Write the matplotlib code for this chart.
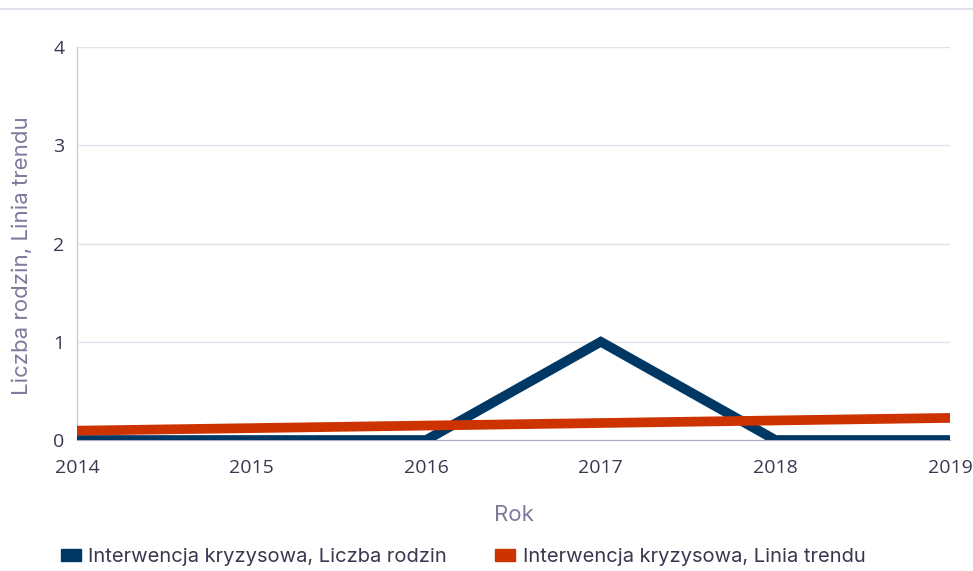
import matplotlib
matplotlib.use("Agg")
from matplotlib import pyplot as plt
from matplotlib.lines import Line2D
from matplotlib.patches import Patch

# data
years = [2014, 2015, 2016, 2017, 2018, 2019]
rodziny = [0, 0, 0, 1, 0, 0]
trend = [0.095, 0.121, 0.147, 0.173, 0.199, 0.225]
yticks = [0, 1, 2, 3, 4]

blue = "#003865"
orange = "#cc3300"
grid_c = "#e1e1ee"
lab_c = "#7d7b9c"

plt.rcParams['font.family'] = ['Open Sans', 'DejaVu Sans']

fig = plt.figure(figsize=(9.73, 5.71), dpi=100)
ax = fig.add_axes([0.0791, 0.2294, 0.8973, 0.6883])

ax.plot(years, rodziny, color=blue, lw=7, solid_joinstyle="miter", zorder=3)
ax.plot(years, trend, color=orange, lw=7, zorder=4)

ax.set_xlim(2014, 2019)
ax.set_ylim(0, 4)
ax.set_xticks(years)
ax.set_yticks(yticks)
ax.grid(axis="y", color=grid_c, lw=1)
ax.set_axisbelow(True)
for s in ["top", "right"]:
    ax.spines[s].set_visible(False)
ax.spines["left"].set_color("#c3c3d8")
ax.spines["bottom"].set_color("#a9a9c6")
ax.tick_params(length=0, labelsize=14, colors="#383850", pad=9)
ax.tick_params(axis="x", pad=14)

ax.set_xlabel("Rok", fontsize=16, color=lab_c, labelpad=20, family=["Inter", "DejaVu Sans"])
ax.set_ylabel("Liczba rodzin, Linia trendu", fontsize=16, color=lab_c,
              family=["Inter", "DejaVu Sans"], va="center")
ax.yaxis.set_label_coords(-0.063, 0.468)

# top separator line
fig.add_artist(Line2D([0, 1], [1 - 9/571, 1 - 9/571], color="#dcdcea", lw=1.2))

handles = [Patch(color=blue), Patch(color=orange)]
fig.legend(handles, ["Interwencja kryzysowa, Liczba rodzin",
                     "Interwencja kryzysowa, Linia trendu"],
           loc="center", bbox_to_anchor=(0.476, 1 - 557/571), ncol=2,
           frameon=False, handlelength=1.0, handleheight=0.5,
           handletextpad=0.35, columnspacing=2.4, labelcolor="#383850",
           prop={"family": ["Inter", "DejaVu Sans"], "size": 14.5})

fig.savefig("out.png", dpi=100)
